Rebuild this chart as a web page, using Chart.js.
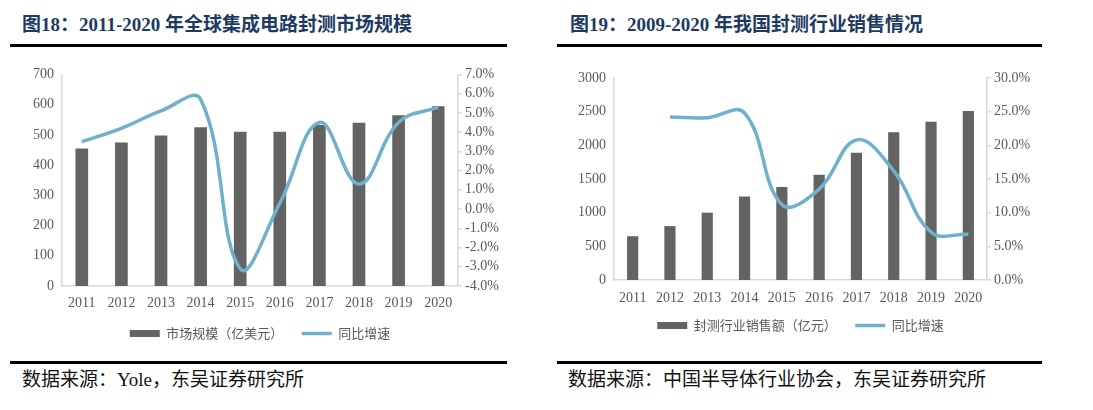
<!DOCTYPE html>
<html>
<head>
<meta charset="utf-8">
<script src="https://cdn.jsdelivr.net/npm/chart.js@4.4.0/dist/chart.umd.min.js"></script>
<style>
  html, body { margin: 0; padding: 0; background: #fff; }
  body { width: 1093px; height: 410px; position: relative; overflow: hidden; }
  .title { position: absolute; top: 13px; font-family: "Liberation Serif", "Noto Sans CJK SC", serif; font-weight: bold; font-size: 19px; color: #1d3a62; white-space: nowrap; line-height: 24px; }
  .rule { position: absolute; height: 3px; background: #000; }
  .src { position: absolute; top: 368px; font-family: "Liberation Serif", "Noto Sans CJK SC", serif; font-size: 19px; color: #111; white-space: nowrap; line-height: 24px; }
  .box { position: absolute; }
</style>
</head>
<body>
<div class="title" style="left:22px;">图18：2011-2020 年全球集成电路封测市场规模</div>
<div class="rule" style="left:10px; width:497px; top:44px;"></div>
<div class="title" style="left:570px;">图19：2009-2020 年我国封测行业销售情况</div>
<div class="rule" style="left:557px; width:485px; top:44px;"></div>

<div class="box" id="b1" style="left:0px; top:58px; width:546px; height:292px;"><canvas id="c1"></canvas></div>
<div class="box" id="b2" style="left:546px; top:58px; width:547px; height:284px;"><canvas id="c2"></canvas></div>

<div class="rule" style="left:10px; width:497px; top:361px;"></div>
<div class="rule" style="left:557px; width:485px; top:361px;"></div>
<div class="src" style="left:22px;">数据来源：Yole，东吴证券研究所</div>
<div class="src" style="left:568px;">数据来源：中国半导体行业协会，东吴证券研究所</div>

<script>
// ---- data ----
const years = ['2011','2012','2013','2014','2015','2016','2017','2018','2019','2020'];
const globalMarket = [455, 475, 498, 525, 510, 510, 533, 540, 565, 595];      // 亿美元
const globalGrowth = [3.5, 4.2, 5.1, 5.7, -3.1, 0.3, 4.5, 1.3, 4.5, 5.3];    // %
const chinaSales = [650, 800, 1000, 1240, 1380, 1564, 1890, 2194, 2350, 2510]; // 亿元
const chinaGrowth = [null, 24.2, 24.1, 24.8, 11.2, 13.5, 20.8, 16.2, 7.1, 6.8]; // %
const label1Bar = '市场规模（亿美元）';
const label2Bar = '封测行业销售额（亿元）';
const labelLine = '同比增速';

const BAR = '#636363';
const LINE = '#6fb0ca';
const AXIS = '#d9d9d9';
const TXT = '#595959';
const SERIF = "'Liberation Serif', 'Noto Sans CJK SC', serif";
const CJK = "'Noto Sans CJK SC', sans-serif";

Chart.defaults.font.family = SERIF;
Chart.defaults.color = TXT;

function legendLabels(chart) {
  return chart.data.datasets.map((ds, i) => ({
    text: ds.type === 'line' ? ds.label : ds.label + '\u3000',
    datasetIndex: i,
    fillStyle: ds.type === 'line' ? LINE : BAR,
    strokeStyle: ds.type === 'line' ? LINE : BAR,
    lineWidth: ds.type === 'line' ? 3.5 : 0,
    pointStyle: ds.type === 'line' ? 'line' : 'rect',
    fontColor: TXT,
    hidden: false
  }));
}

function makeChart(id, cfg) {
  const fixW = (w) => (scale) => { scale.width = w; };
  return new Chart(document.getElementById(id), {
    data: {
      labels: years,
      datasets: [
        { type: 'bar', label: cfg.barLabel, data: cfg.bars, yAxisID: 'y', backgroundColor: BAR,
          barPercentage: cfg.barPct, categoryPercentage: 1.0, order: 2 },
        { type: 'line', label: labelLine, data: cfg.line, yAxisID: 'y1', borderColor: LINE,
          borderWidth: 3.5, tension: 0.4, pointRadius: 0, fill: false, order: 1 }
      ]
    },
    options: {
      responsive: true, maintainAspectRatio: false, animation: false,
      layout: { padding: { top: cfg.padTop, left: 0, right: 0, bottom: 0 } },
      plugins: {
        tooltip: { enabled: false },
        legend: {
          position: 'bottom', fullSize: false,
          labels: {
            generateLabels: legendLabels,
            usePointStyle: true, pointStyleWidth: 30, boxHeight: 7,
            padding: cfg.legPad, color: TXT,
            font: { family: CJK, size: 13 }
          }
        }
      },
      scales: {
        x: {
          grid: { display: false, drawTicks: false },
          border: { display: true, color: AXIS, width: 1.5 },
          ticks: { padding: cfg.xPad, font: { size: 14, family: SERIF }, color: TXT, maxRotation: 0, autoSkip: false },
          afterFit: (s) => { s.height = cfg.xH; }
        },
        y: {
          position: 'left', min: cfg.yMin, max: cfg.yMax,
          grid: { display: false, drawTicks: false },
          border: { display: true, color: AXIS, width: 1.5 },
          ticks: { stepSize: cfg.yStep, autoSkip: false, padding: 8, font: { size: 14, family: SERIF }, color: TXT,
                   callback: (v) => String(v) },
          afterFit: fixW(cfg.leftW)
        },
        y1: {
          position: 'right', min: cfg.y1Min, max: cfg.y1Max,
          grid: { drawOnChartArea: false, drawTicks: true, tickLength: 4, color: AXIS, lineWidth: 1.5 },
          border: { display: true, color: AXIS, width: 1.5 },
          ticks: { stepSize: cfg.y1Step, autoSkip: false, padding: 3, font: { size: 14, family: SERIF }, color: TXT,
                   callback: (v) => Number(v).toFixed(1) + '%' },
          afterFit: fixW(cfg.rightW)
        }
      }
    }
  });
}

makeChart('c1', {
  barLabel: label1Bar, bars: globalMarket, line: globalGrowth, barPct: 0.32,
  padTop: 13, xPad: 9, xH: 29, legPad: 12,
  yMin: 0, yMax: 700, yStep: 100, y1Min: -4, y1Max: 7, y1Step: 1,
  leftW: 62, rightW: 546 - 458
});
makeChart('c2', {
  barLabel: label2Bar, bars: chinaSales, line: chinaGrowth, barPct: 0.30,
  padTop: 20, xPad: 10, xH: 27, legPad: 12,
  yMin: 0, yMax: 3000, yStep: 500, y1Min: 0, y1Max: 30, y1Step: 5,
  leftW: 68, rightW: 547 - 441
});
</script>
</body>
</html>
